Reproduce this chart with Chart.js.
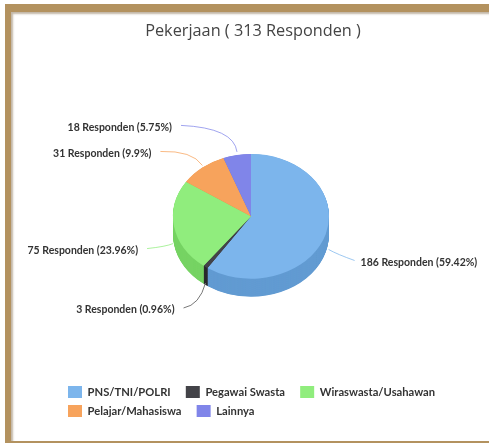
<!DOCTYPE html>
<html><head><meta charset="utf-8">
<script src="https://cdn.jsdelivr.net/npm/chart.js@4"></script>
<style>
html,body{margin:0;padding:0;background:#fff;overflow:hidden}
#frame{position:absolute;left:5px;top:4px;width:484px;height:439px;box-sizing:border-box;
 background:#fff;border-style:solid;border-color:#b3925f;border-width:8px 0 2px 6px;
 box-shadow:inset 2px 2px 2px rgba(120,95,60,.45)}
#wrap{position:absolute;left:0;top:0;width:489px;height:443px}
canvas{filter:blur(.45px)}
</style></head><body>
<div id="frame"></div>
<div id="wrap"><canvas id="c" width="489" height="443"></canvas></div>
<script>
const titleText = 'Pekerjaan ( 313 Responden )';
const categories = ['PNS/TNI/POLRI','Pegawai Swasta','Wiraswasta/Usahawan','Pelajar/Mahasiswa','Lainnya'];
const respondents = [186,3,75,31,18];
const percentLabels = ['59.42','0.96','23.96','9.9','5.75'];
const colors = ['#7cb5ec','#434348','#90ed7d','#f7a35c','#8085e9'];
const wallColors = ['#629bd2','#2a2a2e','#76d363','#dd8942','#666bcf'];

const squash = 0.8, depth = 18;
// leader geometry relative to each slice's rim midpoint: [start dx,dy, control dx,dy, end dx,dy]
const leaders = [
  [ 3,15, 12,20, 29,26],
  [ 0,16, -6,38, -22,41],
  [-1,17, -8,20, -27,22],
  [ 0,-2, -10,-17, -42,-16],
  [ 0,-3, -3,-27, -56,-29.5]
];

const pie3d = {
  id:'pie3d',
  afterLayout(chart){
    chart.legend.left += 21; chart.legend.right += 21;
    chart.titleBlock.left += 2; chart.titleBlock.right += 2;
  },
  beforeDatasetDraw(chart){
    const ctx = chart.ctx, arcs = chart.getDatasetMeta(0).data;
    const cx = arcs[0].x, cy = arcs[0].y;
    ctx.save();
    ctx.translate(cx,cy); ctx.scale(1,squash); ctx.translate(-cx,-cy);
    for(let d=depth/squash; d>0; d-=0.5){
      arcs.forEach((a,i)=>{
        ctx.fillStyle = wallColors[i];
        ctx.beginPath();
        ctx.moveTo(a.x,a.y+d);
        ctx.arc(a.x,a.y+d,a.outerRadius,a.startAngle,a.endAngle);
        ctx.closePath(); ctx.fill();
      });
    }
  },
  afterDatasetDraw(chart){
    const ctx = chart.ctx, arcs = chart.getDatasetMeta(0).data;
    ctx.restore();
    ctx.save();
    ctx.font = 'bold 10.5px Lato';
    ctx.textBaseline = 'middle';
    arcs.forEach((a,i)=>{
      const mid = (a.startAngle+a.endAngle)/2;
      const px = a.x + a.outerRadius*Math.cos(mid);
      const py = a.y + a.outerRadius*Math.sin(mid)*squash;
      const L = leaders[i];
      const ex = px+L[4], ey = py+L[5];
      ctx.strokeStyle = i===1 ? '#777' : colors[i];
      ctx.globalAlpha = i===1 ? 1 : .75;
      ctx.lineWidth = 1;
      ctx.beginPath();
      ctx.moveTo(px+L[0],py+L[1]);
      ctx.quadraticCurveTo(px+L[2],py+L[3],ex,ey);
      ctx.stroke();
      ctx.globalAlpha = 1;
      const right = L[4] > 0;
      ctx.textAlign = right ? 'left' : 'right';
      ctx.fillStyle = '#333';
      ctx.fillText(respondents[i]+' Responden ('+percentLabels[i]+'%)', ex+(right?6:-9), ey+2);
    });
    ctx.restore();
  }
};

new Chart(document.getElementById('c'),{
  type:'pie',
  data:{labels:categories,datasets:[{data:respondents,backgroundColor:colors,borderWidth:0,radius:78}]},
  plugins:[pie3d],
  options:{
    responsive:false,animation:false,
    layout:{padding:{left:40,right:27,top:22,bottom:16}},
    plugins:{
      tooltip:{enabled:false},
      title:{display:true,text:titleText,color:'#444',font:{family:'"Open Sans"',size:16.3,weight:'normal'},padding:{top:0,bottom:12}},
      legend:{position:'bottom',align:'start',
        labels:{boxWidth:14,boxHeight:12,padding:7,color:'#333',font:{family:'Lato',size:11.2,weight:'bold'},
          generateLabels(chart){
            return Chart.overrides.pie.plugins.legend.labels.generateLabels(chart)
              .map(item=>Object.assign(item,{text:item.text+'\u00a0\u00a0\u00a0'}));
          }}}
    }
  }
});
</script></body></html>
